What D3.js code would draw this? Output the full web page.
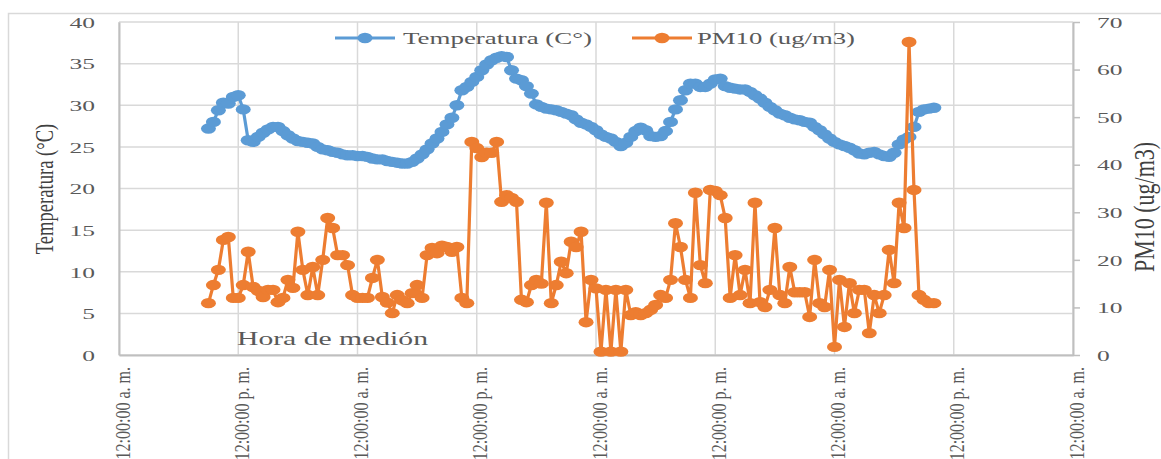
<!DOCTYPE html>
<html>
<head>
<meta charset="utf-8">
<script src="https://cdn.jsdelivr.net/npm/d3@7"></script>
<style>
  body { margin: 0; background: #fff; }
  svg { display: block; }
  text { font-family: "Liberation Serif", "Times New Roman", serif; }
</style>
</head>
<body>
<script>
// Temperatura (C) cada 30 min, desde las 9:00 del primer dia
const temperatura = [
  27.2, 28.0, 29.4, 30.3, 30.2, 31.0, 31.2, 29.5, 25.8, 25.6,
  26.2, 26.7, 27.1, 27.4, 27.4, 26.9, 26.4, 26.0, 25.7, 25.6,
  25.5, 25.4, 25.0, 24.7, 24.6, 24.4, 24.3, 24.1, 24.0, 24.0,
  23.9, 23.9, 23.8, 23.6, 23.5, 23.5, 23.3, 23.2, 23.1, 23.0,
  23.0, 23.2, 23.6, 24.1, 24.7, 25.4, 26.0, 26.8, 27.7, 28.5,
  30.0, 31.8, 32.2, 32.8, 33.4, 34.2, 34.9, 35.4, 35.7, 35.9,
  35.8, 34.2, 33.2, 33.0, 32.3, 31.4, 30.1, 29.8, 29.6, 29.5,
  29.4, 29.2, 29.0, 28.8, 28.3, 27.9, 27.7, 27.4, 27.0, 26.5,
  26.2, 26.0, 25.6, 25.1, 25.5, 26.2, 26.9, 27.3, 27.0, 26.3,
  26.2, 26.3, 26.9, 28.0, 29.5, 30.6, 31.8, 32.6, 32.6, 32.2,
  32.2, 32.6, 33.1, 33.2, 32.3, 32.1, 32.0, 31.9, 31.9, 31.6,
  31.2, 30.8, 30.3, 29.8, 29.4, 29.0, 28.8, 28.5, 28.3, 28.2,
  28.0, 27.9, 27.4, 27.0, 26.5, 26.0, 25.6, 25.3, 25.1, 24.9,
  24.6, 24.2, 24.1, 24.3, 24.4, 24.1, 23.9, 23.8, 24.3, 25.3,
  25.9, 26.2, 27.4, 29.2, 29.5, 29.6, 29.7
]

// PM10 (ug/m3), mismas horas
const pm10 = [
  10.9, 14.7, 17.9, 24.2, 24.8, 12.0, 12.0, 14.7, 21.7, 14.3,
  13.5, 12.2, 13.7, 13.7, 11.1, 12.0, 15.8, 14.1, 25.9, 17.9,
  12.6, 18.5, 12.6, 20.0, 28.8, 26.7, 21.0, 21.0, 18.9, 12.6,
  12.0, 12.0, 12.0, 16.2, 20.0, 12.2, 11.0, 8.8, 12.6, 11.5,
  10.9, 13.0, 14.7, 12.0, 21.0, 22.5, 21.4, 23.0, 22.7, 21.7,
  22.7, 12.0, 10.9, 44.8, 43.5, 41.6, 42.5, 42.5, 44.8, 32.2,
  33.6, 33.0, 32.2, 11.6, 11.1, 14.7, 15.8, 15.0, 32.0, 10.9,
  14.7, 19.6, 17.2, 23.8, 22.7, 25.9, 6.9, 15.8, 14.0, 0.7,
  13.7, 0.7, 13.7, 0.7, 13.7, 8.4, 9.0, 8.4, 8.8, 9.5,
  10.5, 12.6, 12.0, 15.8, 27.7, 22.7, 15.8, 12.0, 34.1, 18.9,
  15.1, 34.7, 34.5, 33.6, 28.8, 12.0, 21.0, 12.6, 17.9, 10.9,
  32.0, 11.1, 10.1, 13.7, 26.7, 12.6, 10.9, 18.5, 13.2, 13.2,
  13.2, 8.0, 20.0, 10.9, 10.1, 17.9, 1.7, 15.8, 5.9, 15.1,
  8.8, 13.7, 13.7, 4.6, 12.6, 8.8, 12.6, 22.1, 15.1, 32.0,
  26.7, 65.8, 34.7, 12.6, 11.6, 10.9, 10.9
]

const tempTicks = [0, 5, 10, 15, 20, 25, 30, 35, 40]
const pmTicks = [0, 10, 20, 30, 40, 50, 60, 70]
const seriesNames = ["Temperatura (C°)", "PM10 (ug/m3)"]
const colors = ["#5b9bd5", "#ed7d31"]

// horas de medicion (cada 30 minutos)
const horas = d3.timeMinute.every(30).range(new Date(2019, 0, 1, 9, 0), new Date(2019, 0, 4, 10, 1))

const W = 1161, H = 459
const margin = { top: 22, right: 88, bottom: 104, left: 119 }

const svg = d3.select("body").append("svg").attr("width", W).attr("height", H)

svg.append("rect")
   .attr("x", 8.5).attr("y", 13.5)
   .attr("width", 1170).attr("height", 470)
   .attr("fill", "none").attr("stroke", "#d9d9d9").attr("stroke-width", 1.5)

const x = d3.scaleTime()
            .domain([new Date(2019, 0, 1, 0, 0), new Date(2019, 0, 5, 0, 0)])
            .range([margin.left, W - margin.right])
const yT = d3.scaleLinear().domain([0, 40]).range([H - margin.bottom, margin.top])
const yP = d3.scaleLinear().domain([0, 70]).range([H - margin.bottom, margin.top])

const timeTicks = x.ticks(d3.timeHour.every(12))
const fmt = d => d.getHours() < 12 ? "12:00:00 a. m." : "12:00:00 p. m."

// rejilla
svg.append("g").selectAll("line").data(tempTicks).join("line")
   .attr("x1", margin.left).attr("x2", W - margin.right)
   .attr("y1", d => yT(d)).attr("y2", d => yT(d))
   .attr("stroke", "#d9d9d9").attr("stroke-width", 1.5)
svg.append("g").selectAll("line").data(timeTicks).join("line")
   .attr("x1", d => x(d)).attr("x2", d => x(d))
   .attr("y1", margin.top).attr("y2", H - margin.bottom)
   .attr("stroke", "#d9d9d9").attr("stroke-width", 1.5)

// eje izquierdo
const gLeft = svg.append("g")
   .attr("transform", `translate(${margin.left},0)`)
   .call(d3.axisLeft(yT).tickValues(tempTicks).tickSize(0).tickFormat(d3.format("d")))
gLeft.select(".domain").attr("stroke", "#bfbfbf").attr("stroke-width", 2)
gLeft.selectAll("text")
   .attr("x", 0).attr("dy", "0.35em")
   .attr("transform", "translate(-24,0) scale(1.7,1)")
   .attr("fill", "#595959").style("font-size", "15px")

// eje derecho
const gRight = svg.append("g")
   .attr("transform", `translate(${W - margin.right},0)`)
   .call(d3.axisRight(yP).tickValues(pmTicks).tickSizeInner(7).tickSizeOuter(0).tickFormat(d3.format("d")))
gRight.select(".domain").attr("stroke", "#bfbfbf").attr("stroke-width", 2)
gRight.selectAll("line").attr("stroke", "#bfbfbf").attr("stroke-width", 1.5)
gRight.selectAll("text")
   .attr("x", 0).attr("dy", "0.35em")
   .attr("transform", "translate(24,0) scale(1.7,1)")
   .attr("fill", "#595959").style("font-size", "15px")

// eje inferior
const gBottom = svg.append("g")
   .attr("transform", `translate(0,${H - margin.bottom})`)
   .call(d3.axisBottom(x).tickValues(timeTicks).tickSize(0).tickFormat(fmt))
gBottom.select(".domain").attr("stroke", "#bfbfbf").attr("stroke-width", 2)
gBottom.selectAll("text")
   .attr("x", 0).attr("y", 0).attr("dy", 0)
   .attr("text-anchor", "end")
   .attr("transform", "translate(10,12) rotate(-90) scale(1,1.25)")
   .attr("fill", "#595959").style("font-size", "16px")

// titulos de ejes
svg.append("text")
   .attr("text-anchor", "middle")
   .attr("transform", "translate(53,189) rotate(-90) scale(1,1.3)")
   .attr("fill", "#404040").style("font-size", "18.6px")
   .text("Temperatura (°C)")
svg.append("text")
   .attr("text-anchor", "middle")
   .attr("transform", "translate(1154,207) rotate(-90) scale(1,1.3)")
   .attr("fill", "#404040").style("font-size", "22px")
   .text("PM10 (ug/m3)")

svg.append("text")
   .attr("x", 237).attr("y", 345)
   .attr("textLength", 191).attr("lengthAdjust", "spacingAndGlyphs")
   .attr("fill", "#595959").style("font-size", "19px")
   .text("Hora de medión")

// series
function drawSeries(values, y, color) {
  const pts = values.map((v, i) => ({ t: horas[i], v: v }))
  const line = d3.line().x(d => x(d.t)).y(d => y(d.v))
  const g = svg.append("g")
  g.append("path")
   .attr("d", line(pts))
   .attr("fill", "none").attr("stroke", color).attr("stroke-width", 3.2)
   .attr("stroke-linejoin", "round")
  g.selectAll("ellipse").data(pts).join("ellipse")
   .attr("cx", d => x(d.t)).attr("cy", d => y(d.v))
   .attr("rx", 7.5).attr("ry", 5.2)
   .attr("fill", color)
}
drawSeries(temperatura, yT, colors[0])
drawSeries(pm10, yP, colors[1])

// leyenda
const legendItems = [
  { name: seriesNames[0], color: colors[0], x0: 335, x1: 395, tx: 403, tl: 189 },
  { name: seriesNames[1], color: colors[1], x0: 632, x1: 692, tx: 697, tl: 158 }
]
const lg = svg.append("g").selectAll("g").data(legendItems).join("g")
lg.append("line")
  .attr("x1", d => d.x0).attr("x2", d => d.x1)
  .attr("y1", 38).attr("y2", 38)
  .attr("stroke", d => d.color).attr("stroke-width", 3)
lg.append("ellipse")
  .attr("cx", d => (d.x0 + d.x1) / 2).attr("cy", 38)
  .attr("rx", 7.5).attr("ry", 5.2)
  .attr("fill", d => d.color)
lg.append("text")
  .attr("x", d => d.tx).attr("y", 44)
  .attr("textLength", d => d.tl).attr("lengthAdjust", "spacingAndGlyphs")
  .attr("fill", "#595959").style("font-size", "17.5px")
  .text(d => d.name)
</script>
</body>
</html>
